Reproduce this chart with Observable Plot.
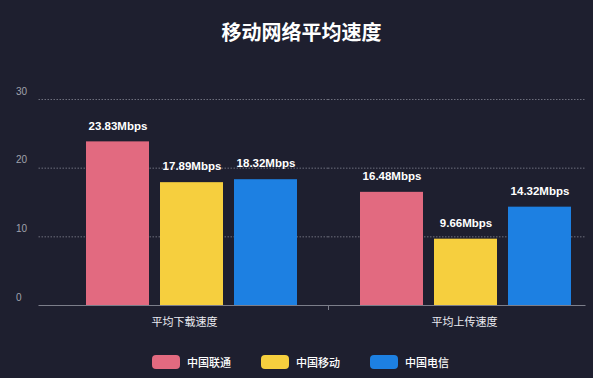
<!DOCTYPE html>
<html><head><meta charset="utf-8">
<script src="https://cdn.jsdelivr.net/npm/d3@7"></script>
<script src="https://cdn.jsdelivr.net/npm/@observablehq/plot@0.6"></script>
<style>
html,body{margin:0;padding:0;background:#1e1f2f;}
body{width:593px;height:378px;overflow:hidden;font-family:"Liberation Sans","Noto Sans CJK SC",sans-serif;}
#title{height:55px;box-sizing:border-box;padding-top:19px;padding-left:10px;text-align:center;color:#fff;font-size:20px;font-weight:bold;font-family:"Noto Sans CJK SC",sans-serif;line-height:26px;}
#chart{height:285px;}
#legend{height:38px;box-sizing:border-box;padding-top:6px;padding-left:8px;display:flex;justify-content:center;align-items:center;}
.item{display:flex;align-items:center;height:20px;margin:0 15px;}
.sw{width:28px;height:14px;border-radius:4px;margin-right:7px;}
.lb{color:#fff;font-size:11px;font-family:"Noto Sans CJK SC",sans-serif;font-weight:500;}
</style></head>
<body>
<div id="title">移动网络平均速度</div>
<div id="chart"></div>
<div id="legend"></div>
<script>
const groups = ["平均下载速度", "平均上传速度"];
const carriers = ["中国联通", "中国移动", "中国电信"];
const download = [23.83, 17.89, 18.32];
const upload = [16.48, 9.66, 14.32];
const colors = ["#e26a80", "#f6cf3e", "#1d80e2"];
const yTicks = [0, 10, 20, 30];
const gridTicks = [10, 20, 30];

const data = [];
groups.forEach((g, gi) => carriers.forEach((c, ci) =>
  data.push({group: g, carrier: c, value: (gi === 0 ? download : upload)[ci]})));

const grid0 = gridTicks.map(t => ({group: groups[0], tick: t}));
const grid1 = gridTicks.map(t => ({group: groups[1], tick: t}));
const base0 = [{group: groups[0], tick: 0}];
const base1 = [{group: groups[1], tick: 0}];
const sep = [{group: groups[0], carrier: carriers[2], tick: 0}];
const ticks0 = yTicks.map(t => ({group: groups[0], tick: t}));

const gridColor = "#6d6f7d";
const chart = Plot.plot({
  width: 593, height: 285,
  marginTop: 44, marginBottom: 35, marginLeft: 38, marginRight: 8,
  style: {background: "transparent", fontFamily: "'Liberation Sans','Noto Sans CJK SC',sans-serif", overflow: "visible"},
  fx: {domain: groups, range: [53.5, 601.5], padding: 0, axis: null},
  x: {domain: carriers, paddingInner: 0.154, paddingOuter: 0.416, axis: null},
  y: {domain: [0, 30], axis: null},
  color: {domain: carriers, range: colors},
  marks: [
    Plot.ruleY(grid0, {fx: "group", y: "tick", stroke: gridColor, strokeDasharray: "1.5,1.5", insetLeft: -15.5}),
    Plot.ruleY(grid1, {fx: "group", y: "tick", stroke: gridColor, strokeDasharray: "1.5,1.5", insetRight: 16.5}),
    Plot.barY(data, {fx: "group", x: "carrier", y: "value", fill: "carrier"}),
    Plot.ruleY(base0, {fx: "group", y: "tick", stroke: "#7c7e8a", insetLeft: -15.5}),
    Plot.ruleY(base1, {fx: "group", y: "tick", stroke: "#7c7e8a", insetRight: 16.5}),
    Plot.ruleX(sep, {fx: "group", x: "carrier", y1: "tick", y2: "tick", dx: 62.5, insetBottom: -5, stroke: "#7c7e8a"}),
    Plot.text(data, {fx: "group", x: "carrier", y: "value", text: d => d.value.toFixed(2) + "Mbps",
      dy: -16, fill: "#fff", fontWeight: "bold", fontSize: 11.5}),
    Plot.text(ticks0, {fx: "group", y: "tick", text: d => String(d.tick), frameAnchor: "left",
      dx: -38.5, dy: -8, textAnchor: "start", fill: "#a0a2ad", fontSize: 10}),
    Plot.text([groups[0]], {fx: d => d, text: d => d, frameAnchor: "bottom", dy: 20, dx: -7,
      fill: "#ececf2", fontSize: 11, fontFamily: "Noto Sans CJK SC"}),
    Plot.text([groups[1]], {fx: d => d, text: d => d, frameAnchor: "bottom", dy: 20, dx: -1,
      fill: "#ececf2", fontSize: 11, fontFamily: "Noto Sans CJK SC"})
  ]
});
document.getElementById("chart").appendChild(chart);

const legend = document.getElementById("legend");
carriers.forEach((c, i) => {
  const item = document.createElement("div");
  item.className = "item";
  const sw = document.createElement("div");
  sw.className = "sw";
  sw.style.background = colors[i];
  const lb = document.createElement("span");
  lb.className = "lb";
  lb.textContent = c;
  item.appendChild(sw); item.appendChild(lb);
  legend.appendChild(item);
});
</script>
</body></html>
